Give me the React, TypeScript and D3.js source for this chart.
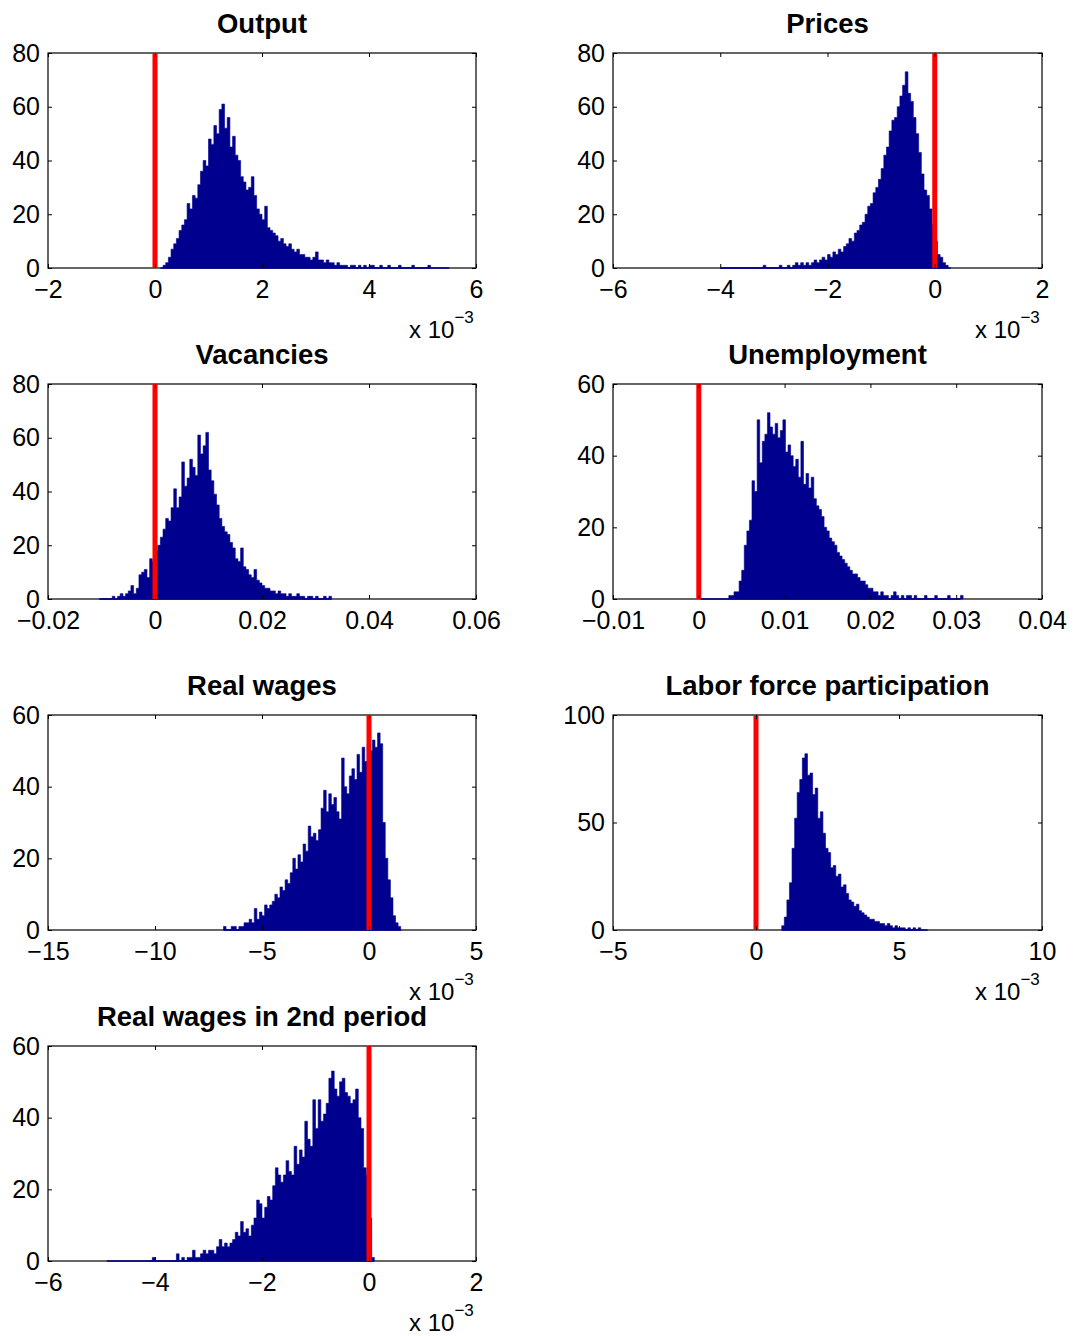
import * as React from "react";
import * as d3 from "d3";

const titles: string[] = [
  "Output", "Prices", "Vacancies", "Unemployment",
  "Real wages", "Labor force participation", "Real wages in 2nd period"
];

const xDomains: number[][] = [
  [-2, 6], [-6, 2], [-0.02, 0.06], [-0.01, 0.04], [-15, 5], [-5, 10], [-6, 2]
];

const xTicks: number[][] = [
  [-2, 0, 2, 4, 6],
  [-6, -4, -2, 0, 2],
  [-0.02, 0, 0.02, 0.04, 0.06],
  [-0.01, 0, 0.01, 0.02, 0.03, 0.04],
  [-15, -10, -5, 0, 5],
  [-5, 0, 5, 10],
  [-6, -4, -2, 0, 2]
];

const yMaxes: number[] = [80, 80, 80, 60, 60, 100, 60];

const yTicks: number[][] = [
  [0, 20, 40, 60, 80],
  [0, 20, 40, 60, 80],
  [0, 20, 40, 60, 80],
  [0, 20, 40, 60],
  [0, 20, 40, 60],
  [0, 50, 100],
  [0, 20, 40, 60]
];

// exponent shown under the x axis (x 10^-3), null when none
const exponents: (number | null)[] = [-3, -3, null, null, -3, -3, -3];

// histogram bins: first bin edge and bin width, in axis units
const binStarts: number[] = [0.15, -4.0, -0.0105, 0.0035, -6.8, 0.9, -4.1];
const binWidths: number[] = [0.05, 0.05, 0.0005, 0.0003, 0.12, 0.09, 0.05];

// extent of the sample (blue zero line)
const spans: number[][] = [
  [0.1, 5.5], [-4.0, 0.3], [-0.0103, 0.033], [0.0002, 0.0305], [-6.8, 1.5], [0.9, 6.0], [-4.9, 0.1]
];

const outputCounts: number[] = [
  1, 2, 4, 7, 9, 11, 14, 16, 18, 24, 22, 27, 26, 31, 36, 40, 38, 48, 46, 53,
  50, 59, 61, 52, 56, 45, 49, 42, 40, 34, 32, 29, 30, 34, 27, 22, 20, 18, 23, 15,
  14, 13, 12, 10, 11, 9, 8, 9, 7, 6, 7, 5, 5, 4, 4, 3, 4, 6, 3, 3,
  2, 3, 2, 2, 1, 2, 1, 1, 1, 0, 1, 1, 0, 1, 0, 1, 0, 1, 1, 0,
  0, 1, 0, 0, 1, 0, 0, 0, 1, 0, 0, 0, 0, 1, 0, 0, 0, 0, 0, 1
];

const pricesCounts: number[] = [
  0, 0, 0, 0, 0, 0, 0, 0, 0, 0, 0, 0, 0, 0, 0, 0, 1, 0, 0, 0,
  0, 0, 1, 0, 0, 1, 0, 1, 2, 1, 2, 1, 2, 1, 2, 3, 2, 3, 4, 3,
  5, 4, 6, 5, 7, 6, 8, 9, 11, 10, 13, 14, 16, 17, 20, 23, 24, 28, 30, 33,
  37, 42, 45, 51, 55, 56, 60, 64, 68, 73, 65, 62, 56, 50, 43, 35, 29, 27, 22, 16,
  10, 5, 4, 2, 1
];

const vacanciesCounts: number[] = [
  0, 0, 0, 0, 0, 1, 0, 1, 2, 1, 2, 3, 5, 2, 4, 9, 10, 11, 8, 15,
  14, 18, 20, 23, 26, 30, 29, 34, 41, 34, 38, 51, 42, 45, 52, 49, 46, 61, 54, 57,
  62, 48, 44, 39, 35, 30, 27, 25, 24, 21, 19, 15, 14, 19, 12, 11, 9, 8, 11, 7,
  6, 5, 4, 4, 3, 3, 2, 3, 2, 2, 1, 2, 1, 1, 2, 1, 1, 0, 1, 1,
  0, 1, 0, 0, 1, 0, 1
];

const unemploymentCounts: number[] = [
  1, 1, 2, 2, 5, 8, 15, 19, 22, 33, 30, 50, 38, 44, 46, 52, 48, 46, 49, 45,
  47, 50, 41, 43, 40, 37, 39, 34, 44, 32, 35, 31, 34, 28, 26, 25, 23, 20, 19, 17,
  16, 15, 13, 12, 11, 10, 9, 8, 7, 7, 6, 5, 5, 4, 3, 3, 2, 2, 1, 2,
  1, 1, 0, 1, 2, 1, 0, 1, 0, 1, 1, 0, 1, 0, 0, 0, 1, 0, 0, 0,
  1, 0, 0, 0, 0, 1, 0, 0, 0, 0, 1
];

const realWagesCounts: number[] = [
  1, 0, 0, 1, 1, 0, 1, 1, 2, 2, 3, 2, 6, 3, 5, 4, 7, 6, 7, 8,
  10, 9, 12, 11, 14, 13, 16, 20, 17, 21, 19, 24, 22, 29, 26, 27, 25, 28, 34, 39,
  33, 38, 35, 37, 33, 31, 48, 40, 38, 43, 45, 42, 49, 44, 51, 47, 52, 50, 53, 51,
  55, 52, 30, 20, 14, 9, 4, 2, 1
];

const laborForceCounts: number[] = [
  2, 6, 14, 22, 38, 52, 64, 70, 80, 82, 72, 73, 63, 66, 52, 55, 45, 38, 36, 29,
  30, 25, 26, 20, 21, 17, 14, 13, 11, 12, 9, 8, 7, 6, 5, 5, 4, 4, 3, 3,
  2, 3, 2, 1, 2, 1, 1, 1, 0, 1, 0, 1, 0, 1
];

const realWages2Counts: number[] = [
  0, 1, 0, 0, 0, 0, 0, 0, 0, 0, 2, 0, 1, 0, 1, 1, 3, 1, 1, 2,
  3, 2, 3, 3, 2, 4, 6, 4, 5, 4, 5, 6, 8, 7, 11, 8, 9, 7, 10, 12,
  17, 16, 12, 15, 18, 17, 21, 26, 24, 22, 24, 28, 25, 24, 32, 27, 31, 29, 39, 34,
  32, 45, 37, 45, 39, 41, 44, 51, 53, 48, 46, 50, 51, 47, 46, 44, 45, 48, 40, 37,
  26, 24, 12, 1
];

const allCounts: number[][] = [
  outputCounts, pricesCounts, vacanciesCounts, unemploymentCounts,
  realWagesCounts, laborForceCounts, realWages2Counts
];

const FONT = "'Liberation Sans', Arial, Helvetica, sans-serif";
const BAR_COLOR = "#00008f";

type Box = { left: number; top: number; width: number; height: number };
type Bin = { x0: number; c: number };

function formatTick(d: number): string {
  return String(d).replace("-", "\u2212");
}

export default class App extends React.PureComponent {
  private svgRef = React.createRef<SVGSVGElement>();

  public componentDidMount(): void {
    this.drawChart();
  }

  public render(): JSX.Element {
    return <svg ref={this.svgRef} width={1075} height={1336}
                style={{ position: "absolute", left: 0, top: 0, background: "#ffffff" }} />;
  }

  private drawChart(): void {
    const svg = d3.select(this.svgRef.current);
    svg.selectAll("*").remove();
    const lefts = [48, 613];
    const widths = [428, 429];
    const tops = [53, 384, 715, 1046];
    titles.forEach((title: string, i: number) => {
      const col = i % 2;
      const box: Box = { left: lefts[col], top: tops[Math.floor(i / 2)], width: widths[col], height: 215 };
      this.drawPanel(svg, i, box);
    });
  }

  private drawPanel(svg: d3.Selection<SVGSVGElement | null, unknown, null, undefined>, i: number, box: Box): void {
    const g = svg.append("g");
    const right = box.left + box.width;
    const bottom = box.top + box.height;

    const x = d3.scaleLinear().domain(xDomains[i]).range([box.left, right]);
    const y = d3.scaleLinear().domain([0, yMaxes[i]]).range([bottom, box.top]);

    // axes box
    g.append("rect")
      .attr("x", box.left).attr("y", box.top)
      .attr("width", box.width).attr("height", box.height)
      .attr("fill", "#ffffff").attr("stroke", "#000000").attr("stroke-width", 1.2);

    // histogram as one stepped area (no seams between bars)
    const bw = binWidths[i];
    const bins: Bin[] = allCounts[i].map((c: number, j: number) => ({ x0: binStarts[i] + j * bw, c }));
    bins.push({ x0: binStarts[i] + bins.length * bw, c: 0 });
    const area = d3.area<Bin>()
      .x((b) => x(b.x0))
      .y0(y(0))
      .y1((b) => y(b.c))
      .curve(d3.curveStepAfter);
    g.append("path")
      .datum(bins)
      .attr("d", area)
      .attr("fill", BAR_COLOR)
      .attr("stroke", BAR_COLOR)
      .attr("stroke-width", 0.6)
      .attr("stroke-linejoin", "miter");

    g.append("line")
      .attr("x1", x(spans[i][0])).attr("x2", x(spans[i][1]))
      .attr("y1", y(0)).attr("y2", y(0))
      .attr("stroke", BAR_COLOR).attr("stroke-width", 1.5);

    // red reference line at zero
    g.append("line")
      .attr("x1", x(0)).attr("x2", x(0))
      .attr("y1", box.top).attr("y2", bottom)
      .attr("stroke", "#ff0000").attr("stroke-width", 5);

    const styleAxis = (a: d3.Selection<SVGGElement, unknown, null, undefined>) => {
      a.select(".domain").remove();
      a.attr("font-family", FONT).attr("font-size", 25);
      a.selectAll("line").attr("stroke", "#000000");
      a.selectAll("text").attr("fill", "#000000");
    };

    g.append("g").attr("transform", `translate(0,${bottom})`)
      .call(d3.axisBottom(x).tickValues(xTicks[i]).tickSizeInner(-4).tickSizeOuter(0)
        .tickPadding(12).tickFormat((d) => formatTick(d as number)))
      .call(styleAxis);
    g.append("g").attr("transform", `translate(0,${box.top})`)
      .call(d3.axisTop(x).tickValues(xTicks[i]).tickSizeInner(-4).tickSizeOuter(0).tickFormat(() => ""))
      .call(styleAxis);
    g.append("g").attr("transform", `translate(${box.left},0)`)
      .call(d3.axisLeft(y).tickValues(yTicks[i]).tickSizeInner(-4).tickSizeOuter(0)
        .tickPadding(8).tickFormat((d) => formatTick(d as number)))
      .call(styleAxis);
    g.append("g").attr("transform", `translate(${right},0)`)
      .call(d3.axisRight(y).tickValues(yTicks[i]).tickSizeInner(-4).tickSizeOuter(0).tickFormat(() => ""))
      .call(styleAxis);

    // title
    g.append("text")
      .attr("x", (box.left + right) / 2).attr("y", box.top - 20)
      .attr("text-anchor", "middle")
      .attr("font-family", FONT).attr("font-size", 27.5).attr("font-weight", "bold")
      .text(titles[i]);

    // exponent label
    const e = exponents[i];
    if (e !== null) {
      const t = g.append("text")
        .attr("x", right - 67).attr("y", bottom + 70)
        .attr("font-family", FONT).attr("font-size", 24);
      t.append("tspan").text("x 10");
      t.append("tspan").attr("dy", -15).attr("font-size", 17).text(formatTick(e));
    }
  }
}
